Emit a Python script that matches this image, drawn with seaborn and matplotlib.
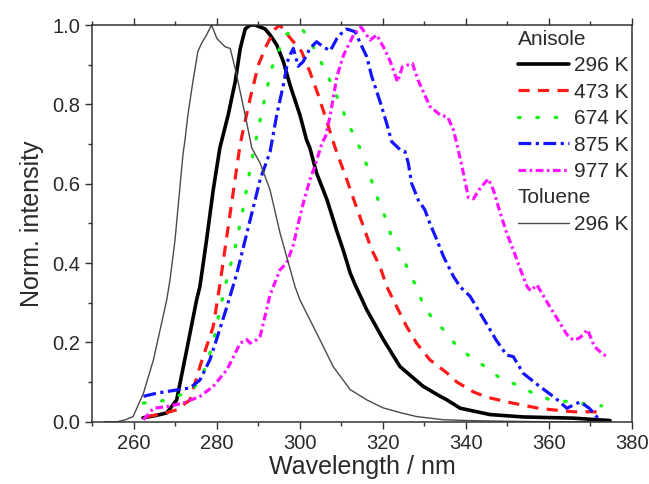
import matplotlib
matplotlib.use("Agg")
import matplotlib.pyplot as plt
import seaborn as sns
import numpy as np
from matplotlib.ticker import MultipleLocator

# ---------------- data ----------------
toluene_x = [253, 256, 258, 259.8, 262.3, 264.7, 267.9, 268.7, 269.9, 271.8, 272.3, 273.0, 274.2,
             275.4, 276.3, 277.5, 278.7, 280.0, 281.0, 282.0, 283.2, 284.4, 285.6, 286.8, 288.4,
             290.4, 292.8, 295.2, 296.8, 298.8, 300.0, 302.4, 304.8, 308.0, 312.1, 316.1, 320.0,
             324.1, 328.1, 334.5, 340.0, 350.0, 360.0, 375.0]
toluene_y = [0.0, 0.0, 0.005, 0.013, 0.072, 0.156, 0.307, 0.358, 0.458, 0.672, 0.71, 0.773, 0.857,
             0.933, 0.954, 0.975, 1.0, 0.966, 0.955, 0.945, 0.941, 0.89, 0.832, 0.773, 0.69,
             0.652, 0.584, 0.476, 0.416, 0.341, 0.307, 0.257, 0.207, 0.139, 0.081, 0.055, 0.035,
             0.023, 0.013, 0.005, 0.003, 0.001, 0.0, 0.0]

k296_x = [262.2, 265.0, 267.9, 270.3, 272.7, 275.1, 275.9, 277.5, 279.1, 280.7, 282.7, 284.4, 285.6,
          286.8, 288.0, 289.2, 290.4, 291.6, 292.8, 294.4, 296.0, 297.6, 300.0, 301.6, 302.4,
          304.0, 306.5, 308.9, 310.5, 312.1, 313.3, 316.1, 320.1, 324.1, 329.7, 333.8, 335.4,
          338.6, 345.8, 353.8, 365.8, 374.7]
k296_y = [0.01, 0.015, 0.022, 0.055, 0.18, 0.307, 0.341, 0.458, 0.584, 0.69, 0.773, 0.857, 0.94,
          0.99, 1.0, 1.0, 0.995, 0.99, 0.975, 0.95, 0.908, 0.849, 0.773, 0.71, 0.69,
          0.627, 0.56, 0.48, 0.43, 0.375, 0.345, 0.282, 0.207, 0.139, 0.089, 0.064, 0.055,
          0.034, 0.018, 0.012, 0.009, 0.003]

k473_x = [263.1, 267.0, 270.3, 273.5, 275.9, 279.1, 280.7, 282.5, 284.0, 285.6, 288.0, 290.0, 292.0,
          294.0, 295.2, 296.4, 298.4, 300.4, 302.4, 304.4, 306.5, 308.5, 311.3, 313.3, 315.3,
          317.3, 319.3, 320.9, 323.3, 325.7, 328.1, 331.3, 335.4, 337.8, 341.8, 345.0, 349.8,
          357.9, 365.9, 373.5]
k473_y = [0.013, 0.02, 0.03, 0.055, 0.139, 0.24, 0.345, 0.476, 0.584, 0.70, 0.815, 0.9, 0.95,
          0.99, 1.0, 0.983, 0.958, 0.933, 0.882, 0.824, 0.756, 0.69, 0.61, 0.55, 0.492,
          0.433, 0.391, 0.341, 0.29, 0.24, 0.198, 0.156, 0.123, 0.10, 0.075, 0.062, 0.05,
          0.033, 0.025, 0.025]

k674_x = [262.3, 266.3, 270.3, 274.2, 276.7, 279.1, 280.7, 282.4, 284.4, 286.0, 287.2, 288.4, 290.0,
          291.2, 293.2, 294.8, 296.4, 298.4, 300.5, 301.6, 304.0, 306.8, 309.3, 311.7, 314.9,
          316.5, 317.7, 319.1, 320.9, 322.1, 324.5, 326.1, 328.1, 329.7, 332.1, 335.0, 337.8,
          341.0, 344.6, 348.2, 352.2, 356.2, 360.3, 364.3, 368.5, 372.7]
k674_y = [0.047, 0.051, 0.064, 0.08, 0.123, 0.198, 0.282, 0.36, 0.44, 0.52, 0.59, 0.66, 0.74,
          0.80, 0.891, 0.933, 0.975, 0.985, 0.99, 0.975, 0.93, 0.87, 0.81, 0.75, 0.68,
          0.635, 0.593, 0.551, 0.507, 0.463, 0.423, 0.381, 0.339, 0.295, 0.257, 0.228, 0.19,
          0.164, 0.139, 0.11, 0.093, 0.072, 0.055, 0.051, 0.045, 0.04]

k875_x = [262.3, 265.5, 270.3, 273.5, 275.9, 278.3, 279.9, 282.4, 284.8, 287.2, 289.2, 290.4, 292.8,
          294.4, 296.0, 297.2, 298.4, 299.6, 300.8, 302.4, 304.0, 305.6, 307.3, 308.9, 310.5,
          311.3, 313.3, 314.5, 316.1, 317.3, 319.3, 320.9, 322.1, 324.1, 325.3, 326.1, 326.9,
          328.5, 330.1, 331.3, 333.0, 334.6, 337.0, 338.6, 341.0, 343.4, 345.8, 347.2, 349.8,
          351.4, 353.8, 357.5, 361.5, 364.3, 367.5, 369.7, 372.3]
k875_y = [0.064, 0.072, 0.08, 0.085, 0.105, 0.156, 0.207, 0.29, 0.374, 0.475, 0.559, 0.61, 0.68,
          0.773, 0.849, 0.916, 0.941, 0.896, 0.908, 0.941, 0.958, 0.945, 0.935, 0.966, 0.985,
          0.99, 0.983, 0.955, 0.92, 0.87, 0.807, 0.752, 0.706, 0.686, 0.681, 0.652, 0.601,
          0.559, 0.534, 0.50, 0.458, 0.416, 0.366, 0.34, 0.316, 0.274, 0.232, 0.207, 0.168,
          0.164, 0.122, 0.091, 0.06, 0.034, 0.05, 0.034, 0.003]

k977_x = [262.3, 264.7, 267.9, 271.9, 275.9, 279.1, 282.4, 284.0, 285.6, 287.2, 288.0, 289.6, 290.4,
          291.2, 292.8, 294.4, 295.2, 296.8, 298.4, 299.6, 300.8, 302.4, 303.6, 305.3, 306.2,
          307.3, 308.9, 310.5, 312.9, 314.7, 316.9, 318.5, 320.1, 321.7, 323.5, 324.7, 327.1,
          328.5, 329.7, 331.3, 333.8, 335.6, 337.0, 337.8, 338.9, 340.6, 341.8, 343.5, 345.4,
          346.6, 348.0, 349.8, 351.4, 353.0, 354.7, 355.6, 357.1, 359.5, 361.9, 364.3, 365.9,
          367.5, 369.3, 370.9, 373.1, 374.3]
k977_y = [0.005, 0.034, 0.038, 0.047, 0.064, 0.089, 0.131, 0.164, 0.198, 0.207, 0.198, 0.207, 0.215,
          0.249, 0.32, 0.362, 0.383, 0.40, 0.445, 0.50, 0.551, 0.61, 0.645, 0.702, 0.72,
          0.773, 0.87, 0.924, 0.975, 0.995, 0.962, 0.975, 0.945, 0.91, 0.857, 0.895, 0.903,
          0.86, 0.832, 0.795, 0.773, 0.768, 0.735, 0.70, 0.65, 0.565, 0.562, 0.59, 0.612,
          0.584, 0.535, 0.476, 0.433, 0.387, 0.341, 0.33, 0.345, 0.302, 0.261, 0.22, 0.205,
          0.212, 0.232, 0.19, 0.169, 0.164]

anisole_labels = ["296 K", "473 K", "674 K", "875 K", "977 K"]
toluene_label = "296 K"

# ---------------- styling ----------------
sns.set_style("ticks")
plt.rcParams['font.family'] = ['Liberation Sans', 'DejaVu Sans']
TXT = "#2a2a2a"

fig = plt.figure(figsize=(6.49, 4.84), dpi=100)
ax = fig.add_axes([0.1424, 0.1287, 0.9738 - 0.1424, 0.9483 - 0.1287])

series = [
    (k296_x, k296_y, "#000000", "-", 2.6),
    (k473_x, k473_y, "#ff1a1a", (0, (3.5, 2.6)), 2.3),
    (k674_x, k674_y, "#19f019", (0, (0.5, 5.0)), 2.4),
    (k875_x, k875_y, "#1414ff", (0, (4.0, 1.4, 1.0, 1.4)), 2.3),
    (k977_x, k977_y, "#ff14ff", (0, (2.4, 1.1, 0.8, 1.1)), 2.3),
]
handles = []
for (xs, ys, col, ls, lw) in series:
    sns.lineplot(x=np.array(xs), y=np.array(ys), ax=ax, color=col, linestyle=ls,
                 linewidth=lw, estimator=None, errorbar=None, sort=False)
    handles.append(ax.lines[-1])
handles[2].set_dash_capstyle("round")

sns.lineplot(x=np.array(toluene_x), y=np.array(toluene_y), ax=ax, color="#4a4a4a",
             linewidth=1.0, estimator=None, errorbar=None, sort=False)
tol_handle = ax.lines[-1]

ax.set_xlim(250, 380)
ax.set_ylim(0, 1.0)
ax.xaxis.set_major_locator(MultipleLocator(20))
ax.xaxis.set_minor_locator(MultipleLocator(10))
ax.yaxis.set_major_locator(MultipleLocator(0.2))
ax.yaxis.set_minor_locator(MultipleLocator(0.1))
ax.yaxis.set_major_formatter(matplotlib.ticker.FormatStrFormatter("%.1f"))

for s in ax.spines.values():
    s.set_visible(True)
    s.set_color("#333333")
    s.set_linewidth(1.1)

ax.tick_params(axis="both", which="both", direction="out", colors="#333333",
               labelcolor=TXT, labelsize=14.5, width=1.0)
ax.tick_params(axis="both", which="major", length=5)
ax.tick_params(axis="both", which="minor", length=3)
ax.tick_params(axis="x", which="both", top=True, labeltop=False)
ax.tick_params(axis="y", which="both", right=False)

ax.set_xlabel("Wavelength / nm", fontsize=18, color=TXT, labelpad=2)
ax.set_ylabel("Norm. intensity", fontsize=18, color=TXT, labelpad=6)

leg_kw = dict(frameon=False, fontsize=15, title_fontsize=15, handlelength=2.45,
              handletextpad=0.25, labelspacing=0.36, borderpad=0.0, borderaxespad=0.0,
              loc="upper left", alignment="left", labelcolor=TXT)
leg1 = ax.legend(handles, anisole_labels, title="Anisole",
                 bbox_to_anchor=(0.788, 0.988), **leg_kw)
leg1.get_title().set_color(TXT)
ax.add_artist(leg1)
leg2 = ax.legend([tol_handle], [toluene_label], title="Toluene",
                 bbox_to_anchor=(0.788, 0.588), **leg_kw)
leg2.get_title().set_color(TXT)

fig.savefig("out.png", dpi=100)
